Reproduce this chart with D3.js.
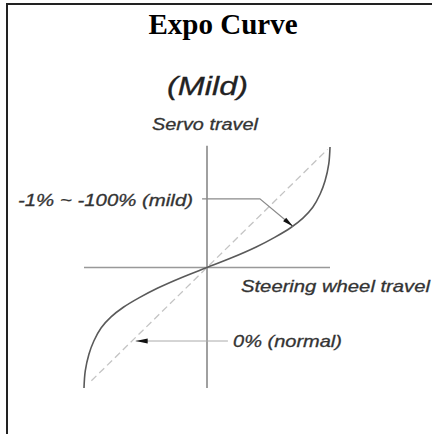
<!DOCTYPE html>
<html>
<head>
<meta charset="utf-8">
<script src="https://cdn.jsdelivr.net/npm/d3@7"></script>
<style>
  html, body { margin: 0; padding: 0; background: #fff; }
  svg { display: block; }
</style>
</head>
<body>
<svg id="main-svg"></svg>
<script>
// chart values (percent of travel)
var steering = [-100, -99, -96, -92, -86, -78, -68, -55, -40, -20, 0, 20, 40, 55, 68, 78, 86, 92, 96, 99, 100];
var servo    = [-100, -86, -72, -61, -50, -41, -33, -25, -17, -8, 0, 8, 17, 25, 33, 41, 50, 61, 72, 86, 100];
var normalLine = [[-94, -94], [98, 98]];
var mildCallout = [[-4, 57], [43, 57], [70, 34]];
var normalCallout = [[17, -61], [-58, -61]];
var labels = ["Expo Curve", "(Mild)", "Servo travel", "Steering wheel travel", "-1% ~ -100% (mild)", "0% (normal)"];

var width = 432, height = 434;
var canvas = d3.select('#main-svg').attr('width', width).attr('height', height);

var x = d3.scaleLinear().domain([-100, 100]).range([84, 330]);
var y = d3.scaleLinear().domain([-100, 100]).range([388, 147]);

// frame (page box, cropped on the right and bottom)
canvas.append('path')
  .attr('d', `M7,${height} V4 H${width}`)
  .attr('fill', 'none')
  .attr('stroke', '#222')
  .attr('stroke-width', 2);

// title
canvas.append('text')
  .attr('x', 223).attr('y', 34)
  .attr('text-anchor', 'middle')
  .style('font-family', '"Liberation Serif", "Times New Roman", serif')
  .style('font-weight', 'bold')
  .style('font-size', '29px')
  .style('fill', '#000')
  .text(labels[0]);

var plot = canvas.append('g');

// axes
plot.append('line')
  .attr('x1', x(0)).attr('x2', x(0))
  .attr('y1', y(101)).attr('y2', y(-100))
  .attr('stroke', '#808080').attr('stroke-width', 1.5);
plot.append('line')
  .attr('x1', x(-100)).attr('x2', x(100))
  .attr('y1', y(0)).attr('y2', y(0))
  .attr('stroke', '#999').attr('stroke-width', 1.3);

// 0% (normal) reference line
plot.append('line')
  .attr('x1', x(normalLine[0][0])).attr('y1', y(normalLine[0][1]))
  .attr('x2', x(normalLine[1][0])).attr('y2', y(normalLine[1][1]))
  .attr('stroke', '#c4c4c4').attr('stroke-width', 1.3)
  .attr('stroke-dasharray', '7,4');

// expo curve
var curvePts = steering.map((s, i) => [s, servo[i]]);
plot.append('path')
  .datum(curvePts)
  .attr('d', d3.line().x(d => x(d[0])).y(d => y(d[1])).curve(d3.curveCatmullRom.alpha(0.5)))
  .attr('fill', 'none')
  .attr('stroke', '#5a5a5a')
  .attr('stroke-width', 1.6);

// callout leaders
var leader = d3.line().x(d => x(d[0])).y(d => y(d[1]));
plot.append('path').attr('d', leader(mildCallout))
  .attr('fill', 'none').attr('stroke', '#8a8a8a').attr('stroke-width', 1.2);
plot.append('path').attr('d', leader(normalCallout))
  .attr('fill', 'none').attr('stroke', '#aaa').attr('stroke-width', 1);

// arrow heads, drawn along the last segment of each leader
function arrowHead(from, to, len, w) {
  var x0 = x(from[0]), y0 = y(from[1]), x1 = x(to[0]), y1 = y(to[1]);
  var a = Math.atan2(y1 - y0, x1 - x0);
  var bx = x1 - len * Math.cos(a), by = y1 - len * Math.sin(a);
  var nx = -Math.sin(a) * w, ny = Math.cos(a) * w;
  plot.append('path')
    .attr('d', `M${x1},${y1} L${bx + nx},${by + ny} L${bx - nx},${by - ny} Z`)
    .attr('fill', '#111');
}
arrowHead(mildCallout[1], mildCallout[2], 11, 2.4);
arrowHead(normalCallout[0], normalCallout[1], 12, 2.4);

// italic labels (the source image is stretched sideways, so fix widths)
var font = '"Liberation Sans", Arial, sans-serif';
function label(txt, x0, yb, size, len, color) {
  canvas.append('text')
    .attr('x', x0).attr('y', yb)
    .attr('textLength', len)
    .attr('lengthAdjust', 'spacingAndGlyphs')
    .style('font-family', font)
    .style('font-style', 'italic')
    .style('font-size', size + 'px')
    .style('fill', color)
    .style('stroke', color)
    .style('stroke-width', 0.3)
    .text(txt);
}
label(labels[1], 167, 95, 25, 81, '#222');
label(labels[2], 152, 130, 16, 106, '#333');
label(labels[3], 241, 292, 17, 189, '#333');
label(labels[4], 18, 206, 16, 175, '#333');
label(labels[5], 233, 347, 17, 109, '#333');
</script>
</body>
</html>
